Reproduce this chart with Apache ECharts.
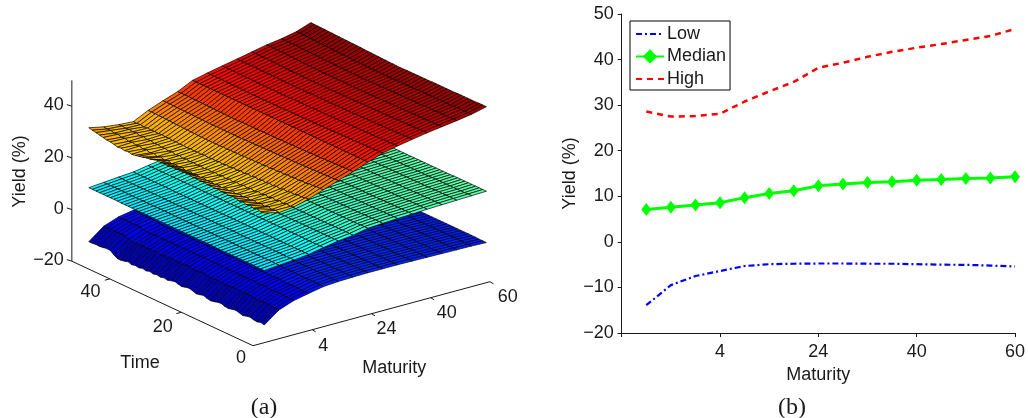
<!DOCTYPE html>
<html><head><meta charset="utf-8">
<style>html,body{margin:0;padding:0;background:#fff}#c{width:1028px;height:418px}</style>
<script src="https://cdn.jsdelivr.net/npm/echarts@6/dist/echarts.min.js"></script>
</head><body><div id="c"></div>
<script>
// Panel (b)
const tickLabelsB = ['', '4', '24', '40', '60'];
const lowLine = [-13.9,-9.5,-7.5,-6.4,-5.3,-4.9,-4.8,-4.75,-4.75,-4.8,-4.8,-4.9,-5,-5.05,-5.2,-5.4];
const medianLine = [7.1,7.6,8.1,8.6,9.7,10.6,11.2,12.3,12.7,13,13.2,13.5,13.7,13.9,14,14.3];
const highLine = [28.6,27.5,27.6,28.1,30.8,33,35.1,38.2,39.3,40.6,41.7,42.6,43.4,44.3,45.2,46.7];

// Panel (a): rows are time 1..50, columns are the 16 maturities
const lowSurface = [
[-14.2,-9.9,-7.8,-6.6,-5.5,-5.1,-4.9,-4.8,-4.8,-4.8,-4.9,-5.0,-5.1,-5.2,-5.3,-5.5],
[-13.8,-9.8,-7.7,-6.6,-5.4,-5.0,-4.9,-4.8,-4.8,-4.8,-4.9,-5.0,-5.1,-5.2,-5.3,-5.5],
[-14.3,-9.9,-7.8,-6.7,-5.5,-5.1,-4.9,-4.8,-4.8,-4.9,-4.9,-5.0,-5.1,-5.2,-5.3,-5.5],
[-14.1,-9.7,-7.7,-6.5,-5.4,-5.0,-4.9,-4.8,-4.8,-4.8,-4.9,-5.0,-5.1,-5.1,-5.3,-5.4],
[-13.7,-9.6,-7.6,-6.5,-5.4,-5.0,-4.8,-4.8,-4.8,-4.8,-4.9,-4.9,-5.0,-5.1,-5.2,-5.4],
[-14.0,-9.8,-7.7,-6.6,-5.5,-5.0,-4.9,-4.8,-4.8,-4.8,-4.9,-5.0,-5.0,-5.1,-5.2,-5.4],
[-14.4,-9.9,-7.8,-6.7,-5.5,-5.1,-4.9,-4.8,-4.8,-4.9,-4.9,-5.0,-5.1,-5.1,-5.2,-5.4],
[-14.0,-9.7,-7.7,-6.5,-5.4,-5.0,-4.8,-4.8,-4.8,-4.8,-4.8,-4.9,-5.0,-5.1,-5.2,-5.4],
[-13.6,-9.5,-7.5,-6.4,-5.3,-4.9,-4.8,-4.7,-4.7,-4.8,-4.8,-4.9,-5.0,-5.0,-5.2,-5.4],
[-13.9,-9.6,-7.6,-6.5,-5.4,-5.0,-4.8,-4.8,-4.8,-4.8,-4.8,-4.9,-5.0,-5.1,-5.2,-5.4],
[-14.3,-9.8,-7.7,-6.6,-5.4,-5.0,-4.9,-4.8,-4.8,-4.8,-4.9,-4.9,-5.0,-5.1,-5.2,-5.4],
[-14.1,-9.7,-7.6,-6.5,-5.4,-5.0,-4.8,-4.8,-4.8,-4.8,-4.8,-4.9,-5.0,-5.1,-5.2,-5.4],
[-13.6,-9.4,-7.5,-6.4,-5.3,-4.9,-4.8,-4.7,-4.7,-4.8,-4.8,-4.9,-5.0,-5.0,-5.2,-5.4],
[-13.8,-9.5,-7.5,-6.4,-5.3,-4.9,-4.8,-4.7,-4.8,-4.8,-4.8,-4.9,-5.0,-5.0,-5.2,-5.4],
[-14.2,-9.7,-7.6,-6.5,-5.4,-5.0,-4.8,-4.8,-4.8,-4.8,-4.8,-4.9,-5.0,-5.1,-5.2,-5.4],
[-14.5,-9.9,-7.7,-6.6,-5.4,-5.0,-4.9,-4.8,-4.8,-4.8,-4.9,-4.9,-5.0,-5.1,-5.2,-5.4],
[-14.2,-9.7,-7.6,-6.5,-5.4,-5.0,-4.8,-4.8,-4.8,-4.8,-4.8,-4.9,-5.0,-5.1,-5.2,-5.4],
[-13.7,-9.5,-7.5,-6.4,-5.3,-4.9,-4.8,-4.7,-4.7,-4.8,-4.8,-4.9,-5.0,-5.0,-5.2,-5.4],
[-14.1,-9.6,-7.6,-6.4,-5.3,-4.9,-4.8,-4.8,-4.8,-4.8,-4.8,-4.9,-5.0,-5.0,-5.2,-5.4],
[-14.4,-9.8,-7.7,-6.5,-5.4,-5.0,-4.8,-4.8,-4.8,-4.8,-4.8,-4.9,-5.0,-5.1,-5.2,-5.4],
[-13.9,-9.6,-7.5,-6.4,-5.3,-4.9,-4.8,-4.7,-4.7,-4.8,-4.8,-4.9,-5.0,-5.0,-5.2,-5.4],
[-13.5,-9.4,-7.4,-6.3,-5.3,-4.9,-4.7,-4.7,-4.7,-4.7,-4.8,-4.9,-4.9,-5.0,-5.1,-5.4],
[-13.8,-9.5,-7.5,-6.4,-5.3,-4.9,-4.8,-4.7,-4.7,-4.8,-4.8,-4.9,-5.0,-5.0,-5.2,-5.4],
[-14.2,-9.7,-7.6,-6.5,-5.4,-5.0,-4.8,-4.8,-4.8,-4.8,-4.8,-4.9,-5.0,-5.1,-5.2,-5.4],
[-13.9,-9.6,-7.5,-6.4,-5.3,-4.9,-4.8,-4.7,-4.7,-4.8,-4.8,-4.9,-5.0,-5.0,-5.2,-5.4],
[-13.5,-9.3,-7.4,-6.3,-5.2,-4.9,-4.7,-4.7,-4.7,-4.7,-4.8,-4.9,-4.9,-5.0,-5.1,-5.3],
[-13.9,-9.5,-7.5,-6.4,-5.3,-4.9,-4.8,-4.7,-4.7,-4.8,-4.8,-4.9,-5.0,-5.0,-5.2,-5.4],
[-14.3,-9.7,-7.6,-6.5,-5.4,-5.0,-4.8,-4.8,-4.8,-4.8,-4.8,-4.9,-5.0,-5.1,-5.2,-5.4],
[-14.0,-9.6,-7.5,-6.4,-5.3,-4.9,-4.8,-4.7,-4.7,-4.8,-4.8,-4.9,-5.0,-5.0,-5.2,-5.4],
[-14.4,-9.8,-7.6,-6.5,-5.4,-5.0,-4.8,-4.8,-4.8,-4.8,-4.8,-4.9,-5.0,-5.1,-5.2,-5.4],
[-14.1,-9.6,-7.5,-6.4,-5.3,-4.9,-4.8,-4.7,-4.7,-4.8,-4.8,-4.9,-5.0,-5.0,-5.2,-5.4],
[-14.5,-9.8,-7.7,-6.5,-5.4,-5.0,-4.8,-4.8,-4.8,-4.8,-4.8,-4.9,-5.0,-5.1,-5.2,-5.4],
[-14.1,-9.6,-7.5,-6.4,-5.3,-4.9,-4.8,-4.7,-4.7,-4.8,-4.8,-4.9,-5.0,-5.0,-5.2,-5.4],
[-14.6,-9.9,-7.7,-6.6,-5.4,-5.0,-4.8,-4.8,-4.8,-4.8,-4.8,-4.9,-5.0,-5.1,-5.2,-5.4],
[-14.2,-9.6,-7.5,-6.4,-5.3,-4.9,-4.8,-4.7,-4.7,-4.8,-4.8,-4.9,-5.0,-5.0,-5.2,-5.4],
[-14.7,-9.9,-7.7,-6.6,-5.4,-5.0,-4.8,-4.8,-4.8,-4.8,-4.8,-4.9,-5.0,-5.1,-5.2,-5.4],
[-14.4,-9.7,-7.6,-6.5,-5.3,-4.9,-4.8,-4.7,-4.7,-4.8,-4.8,-4.9,-5.0,-5.0,-5.2,-5.4],
[-14.8,-10.0,-7.8,-6.6,-5.4,-5.0,-4.8,-4.8,-4.8,-4.8,-4.8,-4.9,-5.0,-5.1,-5.2,-5.4],
[-14.3,-9.7,-7.5,-6.4,-5.3,-4.9,-4.8,-4.7,-4.7,-4.8,-4.8,-4.9,-5.0,-5.0,-5.2,-5.4],
[-14.7,-9.9,-7.7,-6.5,-5.4,-5.0,-4.8,-4.8,-4.8,-4.8,-4.8,-4.9,-5.0,-5.1,-5.2,-5.4],
[-15.0,-10.1,-7.8,-6.6,-5.4,-5.0,-4.8,-4.8,-4.8,-4.8,-4.8,-4.9,-5.0,-5.1,-5.2,-5.4],
[-15.0,-10.0,-7.7,-6.6,-5.4,-4.9,-4.8,-4.7,-4.7,-4.8,-4.8,-4.9,-5.0,-5.0,-5.2,-5.4],
[-14.2,-9.6,-7.5,-6.4,-5.3,-4.9,-4.8,-4.7,-4.7,-4.8,-4.8,-4.9,-5.0,-5.0,-5.2,-5.4],
[-13.1,-9.1,-7.2,-6.2,-5.2,-4.8,-4.7,-4.7,-4.7,-4.7,-4.8,-4.9,-4.9,-5.0,-5.1,-5.3],
[-13.0,-9.0,-7.1,-6.1,-5.2,-4.8,-4.7,-4.6,-4.7,-4.7,-4.8,-4.8,-4.9,-5.0,-5.1,-5.3],
[-13.3,-9.1,-7.2,-6.2,-5.2,-4.8,-4.7,-4.7,-4.7,-4.7,-4.8,-4.9,-4.9,-5.0,-5.1,-5.3],
[-13.5,-9.2,-7.2,-6.2,-5.2,-4.8,-4.7,-4.7,-4.7,-4.7,-4.8,-4.9,-4.9,-5.0,-5.1,-5.3],
[-13.4,-9.1,-7.1,-6.1,-5.1,-4.8,-4.7,-4.6,-4.7,-4.7,-4.8,-4.8,-4.9,-5.0,-5.1,-5.3],
[-13.6,-9.2,-7.2,-6.1,-5.2,-4.8,-4.7,-4.7,-4.7,-4.7,-4.8,-4.9,-4.9,-5.0,-5.1,-5.3],
[-13.6,-9.2,-7.1,-6.1,-5.1,-4.8,-4.7,-4.6,-4.7,-4.7,-4.8,-4.8,-4.9,-5.0,-5.1,-5.3]
];
const medianSurface = [
[6.9,7.4,7.9,8.5,9.6,10.6,11.3,12.4,12.8,13.1,13.3,13.6,13.8,14.0,14.2,14.4],
[6.9,7.4,7.9,8.5,9.6,10.6,11.3,12.4,12.8,13.1,13.3,13.6,13.8,14.0,14.2,14.4],
[6.9,7.5,7.9,8.5,9.6,10.6,11.3,12.4,12.8,13.1,13.3,13.6,13.8,14.0,14.1,14.4],
[7.0,7.5,7.9,8.5,9.6,10.6,11.3,12.3,12.8,13.1,13.3,13.6,13.8,14.0,14.1,14.4],
[7.0,7.5,8.0,8.5,9.6,10.6,11.3,12.3,12.8,13.1,13.3,13.6,13.8,14.0,14.1,14.4],
[7.0,7.5,8.0,8.5,9.6,10.6,11.3,12.3,12.8,13.0,13.3,13.6,13.8,14.0,14.1,14.4],
[7.0,7.5,8.0,8.5,9.7,10.6,11.3,12.3,12.7,13.0,13.3,13.5,13.8,14.0,14.1,14.4],
[7.0,7.5,8.0,8.5,9.7,10.6,11.2,12.3,12.7,13.0,13.3,13.5,13.8,13.9,14.1,14.4],
[7.0,7.5,8.0,8.5,9.7,10.6,11.2,12.3,12.7,13.0,13.3,13.5,13.7,13.9,14.1,14.4],
[7.0,7.5,8.0,8.5,9.7,10.6,11.2,12.3,12.7,13.0,13.2,13.5,13.7,13.9,14.1,14.4],
[7.0,7.5,8.0,8.6,9.7,10.6,11.2,12.3,12.7,13.0,13.2,13.5,13.7,13.9,14.1,14.3],
[7.0,7.5,8.0,8.6,9.7,10.6,11.2,12.3,12.7,13.0,13.2,13.5,13.7,13.9,14.1,14.3],
[7.0,7.5,8.0,8.6,9.7,10.6,11.2,12.3,12.7,13.0,13.2,13.5,13.7,13.9,14.0,14.3],
[7.0,7.6,8.0,8.6,9.7,10.6,11.2,12.3,12.7,13.0,13.2,13.5,13.7,13.9,14.0,14.3],
[7.1,7.6,8.0,8.6,9.7,10.6,11.2,12.3,12.7,13.0,13.2,13.5,13.7,13.9,14.0,14.3],
[7.1,7.6,8.0,8.6,9.7,10.6,11.2,12.3,12.7,13.0,13.2,13.5,13.7,13.9,14.0,14.3],
[7.1,7.6,8.1,8.6,9.7,10.6,11.2,12.3,12.7,13.0,13.2,13.5,13.7,13.9,14.0,14.3],
[7.1,7.6,8.1,8.6,9.7,10.6,11.2,12.3,12.7,13.0,13.2,13.5,13.7,13.9,14.0,14.3],
[7.1,7.6,8.1,8.6,9.7,10.6,11.2,12.3,12.7,13.0,13.2,13.5,13.7,13.9,14.0,14.3],
[7.1,7.6,8.1,8.6,9.7,10.6,11.2,12.3,12.7,13.0,13.2,13.5,13.7,13.9,14.0,14.3],
[7.1,7.6,8.1,8.6,9.7,10.6,11.2,12.3,12.7,13.0,13.2,13.5,13.7,13.9,14.0,14.3],
[7.1,7.6,8.1,8.6,9.7,10.6,11.2,12.3,12.7,13.0,13.2,13.5,13.7,13.9,14.0,14.3],
[7.1,7.6,8.1,8.6,9.7,10.6,11.2,12.3,12.7,13.0,13.2,13.5,13.7,13.9,14.0,14.3],
[7.1,7.6,8.1,8.6,9.7,10.6,11.2,12.3,12.7,13.0,13.2,13.5,13.7,13.9,14.0,14.3],
[7.1,7.6,8.1,8.6,9.7,10.6,11.2,12.3,12.7,13.0,13.2,13.5,13.7,13.9,14.0,14.3],
[7.1,7.6,8.1,8.6,9.7,10.6,11.2,12.3,12.7,13.0,13.2,13.5,13.7,13.9,14.0,14.3],
[7.1,7.6,8.1,8.6,9.7,10.6,11.2,12.3,12.7,13.0,13.2,13.5,13.7,13.9,14.0,14.3],
[7.1,7.6,8.1,8.6,9.7,10.6,11.2,12.3,12.7,13.0,13.2,13.5,13.7,13.9,14.0,14.3],
[7.1,7.6,8.1,8.6,9.7,10.6,11.2,12.3,12.7,13.0,13.2,13.5,13.7,13.9,14.0,14.3],
[7.1,7.6,8.1,8.6,9.7,10.6,11.2,12.3,12.7,13.0,13.2,13.5,13.7,13.9,14.0,14.3],
[7.2,7.7,8.1,8.6,9.7,10.6,11.2,12.3,12.7,13.0,13.2,13.5,13.7,13.9,14.0,14.3],
[7.2,7.7,8.1,8.6,9.7,10.6,11.2,12.3,12.7,13.0,13.2,13.5,13.7,13.9,14.0,14.3],
[7.2,7.7,8.1,8.6,9.7,10.6,11.2,12.3,12.7,13.0,13.2,13.5,13.7,13.9,14.0,14.3],
[7.2,7.7,8.1,8.6,9.7,10.6,11.2,12.3,12.7,13.0,13.2,13.5,13.7,13.9,14.0,14.3],
[7.2,7.7,8.1,8.6,9.7,10.6,11.2,12.3,12.7,13.0,13.2,13.5,13.7,13.9,14.0,14.3],
[7.2,7.7,8.1,8.6,9.7,10.6,11.2,12.3,12.7,13.0,13.2,13.5,13.7,13.9,14.0,14.3],
[7.2,7.7,8.2,8.6,9.7,10.6,11.2,12.3,12.7,13.0,13.2,13.5,13.7,13.9,14.0,14.3],
[7.2,7.7,8.2,8.6,9.7,10.6,11.2,12.3,12.7,13.0,13.2,13.5,13.7,13.9,14.0,14.3],
[7.2,7.7,8.2,8.6,9.7,10.6,11.2,12.3,12.7,13.0,13.2,13.5,13.7,13.9,14.0,14.3],
[7.2,7.7,8.2,8.7,9.7,10.6,11.2,12.3,12.7,13.0,13.2,13.5,13.7,13.9,14.0,14.3],
[7.2,7.7,8.2,8.7,9.7,10.6,11.2,12.3,12.7,13.0,13.2,13.5,13.7,13.9,14.0,14.3],
[7.3,7.7,8.2,8.7,9.7,10.6,11.2,12.3,12.7,13.0,13.2,13.5,13.7,13.9,14.0,14.3],
[7.3,7.7,8.2,8.7,9.7,10.6,11.2,12.3,12.7,13.0,13.2,13.5,13.7,13.9,14.0,14.3],
[7.3,7.8,8.2,8.7,9.7,10.6,11.2,12.3,12.7,13.0,13.2,13.5,13.7,13.9,14.0,14.3],
[7.3,7.8,8.2,8.7,9.7,10.6,11.2,12.3,12.7,13.0,13.2,13.5,13.7,13.9,14.0,14.3],
[7.3,7.8,8.2,8.7,9.7,10.6,11.2,12.3,12.7,13.0,13.2,13.5,13.7,13.9,14.0,14.3],
[7.3,7.8,8.2,8.7,9.7,10.6,11.2,12.3,12.7,13.0,13.2,13.5,13.7,13.9,14.0,14.3],
[7.3,7.8,8.2,8.7,9.7,10.6,11.2,12.3,12.7,13.0,13.2,13.5,13.7,13.9,14.0,14.3],
[7.3,7.8,8.3,8.7,9.7,10.6,11.2,12.3,12.7,13.0,13.2,13.5,13.7,13.9,14.0,14.3],
[7.3,7.8,8.3,8.7,9.7,10.6,11.2,12.3,12.7,13.0,13.2,13.5,13.7,13.9,14.0,14.3]
];
const highSurface = [
[29.2,27.8,28.4,30.0,32.0,34.0,35.9,38.0,40.0,41.2,42.2,43.2,44.0,44.8,45.7,47.1],
[29.0,28.0,28.0,29.7,31.8,33.9,35.8,38.0,39.9,41.1,42.2,43.1,44.0,44.8,45.7,47.1],
[29.5,27.7,28.3,29.4,31.9,33.8,35.8,38.1,39.9,41.1,42.1,43.1,43.9,44.7,45.6,47.1],
[29.1,28.1,27.8,29.6,31.6,33.8,35.7,38.0,39.8,41.0,42.1,43.0,43.9,44.7,45.6,47.0],
[29.6,27.6,28.2,29.1,31.7,33.7,35.7,38.1,39.8,41.0,42.0,43.0,43.9,44.7,45.6,47.0],
[29.2,28.0,27.7,29.3,31.3,33.7,35.6,38.0,39.7,41.0,42.0,43.0,43.8,44.7,45.6,47.0],
[29.7,27.5,28.1,28.9,31.5,33.6,35.6,38.1,39.7,40.9,42.0,42.9,43.8,44.6,45.5,47.0],
[29.3,27.9,27.6,29.2,31.1,33.6,35.5,38.0,39.7,40.9,41.9,42.9,43.8,44.6,45.5,47.0],
[29.8,27.4,28.0,28.7,31.3,33.5,35.5,38.1,39.6,40.9,41.9,42.9,43.7,44.6,45.5,47.0],
[29.9,27.8,27.5,29.0,31.0,33.5,35.4,38.0,39.6,40.8,41.9,42.8,43.7,44.6,45.5,46.9],
[29.6,27.3,27.9,28.6,31.2,33.4,35.4,38.1,39.6,40.8,41.8,42.8,43.7,44.5,45.4,46.9],
[30.0,27.7,27.4,28.9,30.8,33.4,35.4,38.0,39.5,40.8,41.8,42.8,43.7,44.5,45.4,46.9],
[29.7,27.2,27.8,28.5,31.1,33.3,35.3,38.1,39.5,40.7,41.8,42.7,43.6,44.5,45.4,46.9],
[30.1,27.6,27.3,28.8,30.7,33.3,35.3,38.0,39.5,40.7,41.8,42.7,43.6,44.5,45.4,46.9],
[29.8,27.1,27.7,28.4,31.0,33.3,35.3,38.1,39.4,40.7,41.7,42.7,43.6,44.4,45.4,46.9],
[30.2,27.5,27.2,28.7,30.6,33.2,35.2,38.0,39.4,40.6,41.7,42.6,43.6,44.4,45.4,46.9],
[29.9,27.0,27.6,28.3,30.9,33.2,35.2,38.1,39.4,40.6,41.7,42.6,43.5,44.4,45.3,46.8],
[30.3,27.4,27.1,28.6,30.5,33.1,35.2,38.0,39.4,40.6,41.6,42.6,43.5,44.4,45.3,46.8],
[30.0,27.0,27.5,28.2,30.8,33.1,35.1,38.1,39.3,40.6,41.6,42.6,43.5,44.4,45.3,46.8],
[30.4,27.4,27.1,28.5,30.5,33.1,35.1,38.0,39.3,40.5,41.6,42.6,43.5,44.3,45.3,46.8],
[30.1,27.1,27.5,28.1,30.7,33.0,35.1,38.1,39.3,40.5,41.6,42.5,43.4,44.3,45.3,46.8],
[30.5,27.5,27.1,28.4,30.4,33.0,35.0,38.0,39.3,40.5,41.6,42.5,43.4,44.3,45.3,46.8],
[30.6,27.1,27.5,28.0,30.6,33.0,35.0,38.1,39.2,40.5,41.5,42.5,43.4,44.3,45.2,46.8],
[30.2,27.5,27.1,28.3,30.3,32.9,35.0,38.0,39.2,40.5,41.5,42.5,43.4,44.3,45.2,46.7],
[30.5,27.2,27.4,27.9,30.5,32.9,35.0,38.1,39.2,40.4,41.5,42.5,43.4,44.3,45.2,46.7],
[30.1,27.6,27.1,28.2,30.3,32.9,35.0,38.0,39.2,40.4,41.5,42.4,43.4,44.2,45.2,46.7],
[30.4,27.2,27.4,27.9,30.4,32.9,34.9,38.1,39.2,40.4,41.5,42.4,43.4,44.2,45.2,46.8],
[30.0,27.7,27.1,28.1,30.2,32.8,34.9,38.0,39.2,40.4,41.5,42.4,43.4,44.2,45.2,46.8],
[30.3,27.3,27.4,27.8,30.4,32.8,34.9,38.1,39.1,40.4,41.5,42.4,43.4,44.2,45.2,46.9],
[30.0,27.7,27.2,28.1,30.2,32.8,34.9,38.0,39.1,40.4,41.4,42.4,43.4,44.2,45.2,46.9],
[30.4,27.3,27.5,27.8,30.3,32.8,34.9,38.0,39.1,40.3,41.4,42.4,43.4,44.2,45.2,47.0],
[29.8,27.8,27.2,28.0,30.2,32.8,34.9,38.0,39.1,40.3,41.4,42.4,43.4,44.3,45.3,47.0],
[29.4,27.4,27.6,27.8,30.3,32.8,34.8,38.0,39.1,40.3,41.4,42.4,43.4,44.3,45.3,47.1],
[29.2,27.9,27.3,28.0,30.2,32.8,34.8,38.0,39.1,40.3,41.4,42.4,43.4,44.3,45.3,47.1],
[28.8,27.5,27.7,27.8,30.3,32.8,34.8,38.0,39.1,40.3,41.4,42.4,43.5,44.3,45.4,47.2],
[28.5,28.0,27.4,28.0,30.3,32.8,34.8,38.0,39.1,40.3,41.4,42.4,43.5,44.4,45.4,47.3],
[28.2,27.6,27.8,27.9,30.4,32.8,34.9,38.0,39.1,40.3,41.4,42.5,43.5,44.4,45.5,47.3],
[28.0,28.1,27.6,28.1,30.4,32.8,34.9,38.0,39.1,40.3,41.4,42.5,43.6,44.4,45.5,47.4],
[28.3,27.8,28.0,28.0,30.5,32.9,34.9,38.0,39.1,40.3,41.5,42.5,43.6,44.5,45.6,47.4],
[28.1,28.3,27.8,28.2,30.5,32.9,35.0,38.0,39.2,40.3,41.5,42.6,43.6,44.5,45.6,47.5],
[28.4,28.0,28.2,28.1,30.6,32.9,35.0,38.0,39.2,40.4,41.5,42.6,43.7,44.5,45.7,47.5],
[28.2,28.5,28.0,28.3,30.6,33.0,35.0,38.0,39.2,40.4,41.5,42.6,43.7,44.6,45.7,47.6],
[28.6,28.2,28.4,28.1,30.7,33.0,35.1,38.0,39.2,40.4,41.5,42.7,43.8,44.6,45.8,47.6],
[28.9,28.7,28.2,28.3,30.8,33.0,35.1,38.0,39.2,40.4,41.6,42.7,43.8,44.7,45.8,47.7],
[29.0,28.5,28.6,28.1,30.8,33.1,35.1,38.0,39.2,40.4,41.6,42.7,43.9,44.7,45.9,47.7],
[29.3,29.0,28.4,28.3,30.9,33.1,35.1,38.0,39.3,40.5,41.6,42.8,43.9,44.8,45.9,47.8],
[29.6,28.8,28.7,28.1,30.9,33.1,35.2,38.0,39.3,40.5,41.6,42.8,44.0,44.8,46.0,47.8],
[29.9,29.2,28.5,28.3,31.0,33.2,35.2,38.0,39.3,40.5,41.6,42.8,44.0,44.8,46.0,47.9],
[30.2,29.1,28.7,28.2,31.0,33.2,35.2,38.0,39.3,40.5,41.6,42.8,44.0,44.8,46.0,47.9],
[30.5,29.3,28.6,28.2,31.0,33.2,35.2,38.0,39.3,40.5,41.6,42.8,44.0,44.8,46.0,48.0]
];
const zTicks = [-20, 0, 20, 40];
const timeTicks = [0, 20, 40];
const maturityTickIdx = [4, 8, 12, 16];
const maturityTickLabels = ['4', '24', '40', '60'];

const FONT = '"Liberation Sans", Arial, sans-serif';
const INK = '#1a1a1a';
const M = '\u2212';

// oblique view of panel (a): canvas position of (time, maturity index, yield)
function proj(t, i, z) {
  return [253 + i * 14.81 - t * 3.58, 345.7 - 4 * i - t * 1.67 - (z + 20) * 2.583];
}
function jet(z) {
  const v = Math.min(1, Math.max(0, (z + 15) / 63));
  const c = x => Math.round(255 * Math.min(1, Math.max(0, 1.5 - Math.abs(4 * v - x))));
  return `rgb(${c(3)},${c(2)},${c(1)})`;
}
function surfaceSeries(name, table) {
  const cells = [];
  for (let t = table.length - 1; t >= 1; t--)
    for (let i = table[0].length - 1; i >= 1; i--) cells.push([t, i]);
  return {
    type: 'custom', name, xAxisIndex: 0, yAxisIndex: 0, coordinateSystem: 'cartesian2d',
    silent: true, clip: false, data: cells, progressive: 0, animation: false,
    renderItem(p, api) {
      const r = api.value(0), c = api.value(1);
      const pt = (a, b) => api.coord(proj(a + 1, b + 1, table[a][b]));
      const z = (table[r][c] + table[r-1][c] + table[r][c-1] + table[r-1][c-1]) / 4;
      return { type: 'polygon', shape: { points: [pt(r, c), pt(r-1, c), pt(r-1, c-1), pt(r, c-1)] },
        style: { fill: jet(z), stroke: '#000', lineWidth: 0.7 } };
    }
  };
}
function axesSeries() {
  return {
    type: 'custom', name: 'axes', xAxisIndex: 0, yAxisIndex: 0, silent: true, clip: false,
    data: [[0, 0]], animation: false, z: 1,
    renderItem(p, api) {
      const kids = [];
      const seg = (a, b) => {
        const A = api.coord(a), B = api.coord(b);
        kids.push({ type: 'line', shape: { x1: A[0], y1: A[1], x2: B[0], y2: B[1] },
          style: { stroke: INK, lineWidth: 1 } });
      };
      const txt = (s, x, y, align, rot) => {
        const P = api.coord([x, y]);
        kids.push({ type: 'text', x: P[0], y: P[1], rotation: rot || 0,
          style: { text: s, fill: INK, font: '18px ' + FONT, textAlign: align || 'center', textVerticalAlign: 'middle' } });
      };
      seg(proj(50.6, 0, -20), proj(50.6, 0, 50));
      seg(proj(0, 0, -20), proj(50.6, 0, -20));
      seg(proj(0, 0, -20), proj(0, 16, -20));
      zTicks.forEach(v => {
        const a = proj(50.6, 0, v);
        seg(a, [a[0] - 5, a[1] - 1.6]);
        txt(String(v).replace('-', M), a[0] - 8, a[1] - 1, 'right');
      });
      const tOff = { 0: [-12, 12.6], 20: [-18.7, 14.3], 40: [-19.3, 13] };
      timeTicks.forEach(v => {
        const a = proj(v, 0, -20);
        if (v) seg(a, [a[0] - 5, a[1] + 1.3]);
        txt(String(v), a[0] + tOff[v][0], a[1] + tOff[v][1]);
      });
      const mOff = [[11, 16], [15, 15], [16, 15], [17.7, 15.6]];
      maturityTickIdx.forEach((v, k) => {
        const a = proj(0, v, -20);
        seg(a, [a[0] + 3.5, a[1] + 2.2]);
        txt(maturityTickLabels[k], a[0] + mOff[k][0], a[1] + mOff[k][1]);
      });
      txt('Time', 140, 363.5);
      txt('Maturity', 394.3, 368.5);
      txt('Yield (%)', 20, 171.5, 'center', Math.PI / 2);
      return { type: 'group', children: kids };
    }
  };
}
const idx = lowLine.map((_, k) => k + 1);
const pair = a => a.map((v, k) => [idx[k], v]);
const axisTxt = { fontFamily: FONT, fontSize: 18, color: INK };
const serif = { fontFamily: '"Liberation Serif"', fontSize: 24, fontWeight: 'normal', color: INK };
const option = {
  animation: false,
  backgroundColor: '#fff',
  title: [
    { text: '(a)', left: 259, top: 391, textAlign: 'center', textStyle: serif },
    { text: '(b)', left: 787, top: 391, textAlign: 'center', textStyle: serif }
  ],
  grid: [
    { left: 0, top: 0, width: 1028, height: 418, show: false },
    { left: 621.7, top: 14, width: 395, height: 319, show: false }
  ],
  xAxis: [
    { gridIndex: 0, type: 'value', min: 0, max: 1028, show: false },
    { gridIndex: 1, type: 'value', min: 0, max: 16, interval: 4, splitLine: { show: false },
      axisLine: { onZero: false, lineStyle: { color: INK, width: 1 } },
      axisTick: { length: 4, lineStyle: { color: INK } },
      axisLabel: { ...axisTxt, margin: 10, formatter: v => tickLabelsB[v / 4] },
      name: 'Maturity', nameLocation: 'middle', nameGap: 25, nameTextStyle: axisTxt }
  ],
  yAxis: [
    { gridIndex: 0, type: 'value', min: 0, max: 418, inverse: true, show: false },
    { gridIndex: 1, type: 'value', min: -20, max: 50, interval: 10, splitLine: { show: false },
      axisLine: { show: true, onZero: false, lineStyle: { color: INK, width: 1 } },
      axisTick: { show: true, length: 4, lineStyle: { color: INK } },
      axisLabel: { ...axisTxt, margin: 8, padding: [6, 0, 0, 0], formatter: v => String(v).replace('-', M) },
      name: 'Yield (%)', nameLocation: 'middle', nameGap: 42, nameTextStyle: axisTxt }
  ],
  legend: {
    left: 630, top: 21, orient: 'vertical',
    data: [{ name: 'Low', itemStyle: { opacity: 0 } }, { name: 'Median' }, { name: 'High', itemStyle: { opacity: 0 } }],
    backgroundColor: '#fff', borderColor: '#000', borderWidth: 1, borderRadius: 0,
    padding: [4, 4, 2, 5], itemWidth: 28, itemHeight: 18, itemGap: 4.5,
    textStyle: { ...axisTxt, padding: [0, 0, 0, -2] }
  },
  series: [
    surfaceSeries('surface low', lowSurface),
    surfaceSeries('surface median', medianSurface),
    surfaceSeries('surface high', highSurface),
    axesSeries(),
    { type: 'line', name: 'Low', xAxisIndex: 1, yAxisIndex: 1, data: pair(lowLine), symbol: 'none',
      lineStyle: { color: '#00f', width: 2.2, type: [6, 3, 2, 3] }, itemStyle: { color: '#00f' } },
    { type: 'line', name: 'Median', xAxisIndex: 1, yAxisIndex: 1, data: pair(medianLine), symbol: 'diamond', symbolSize: [10, 13],
      lineStyle: { color: '#0f0', width: 3 }, itemStyle: { color: '#0f0' } },
    { type: 'line', name: 'High', xAxisIndex: 1, yAxisIndex: 1, data: pair(highLine), symbol: 'none',
      lineStyle: { color: '#f00', width: 2.5, type: [6, 5] }, itemStyle: { color: '#f00' } }
  ]
};
const chart = echarts.init(document.getElementById('c'), null, { renderer: 'canvas' });
chart.setOption(option);
</script></body></html>
